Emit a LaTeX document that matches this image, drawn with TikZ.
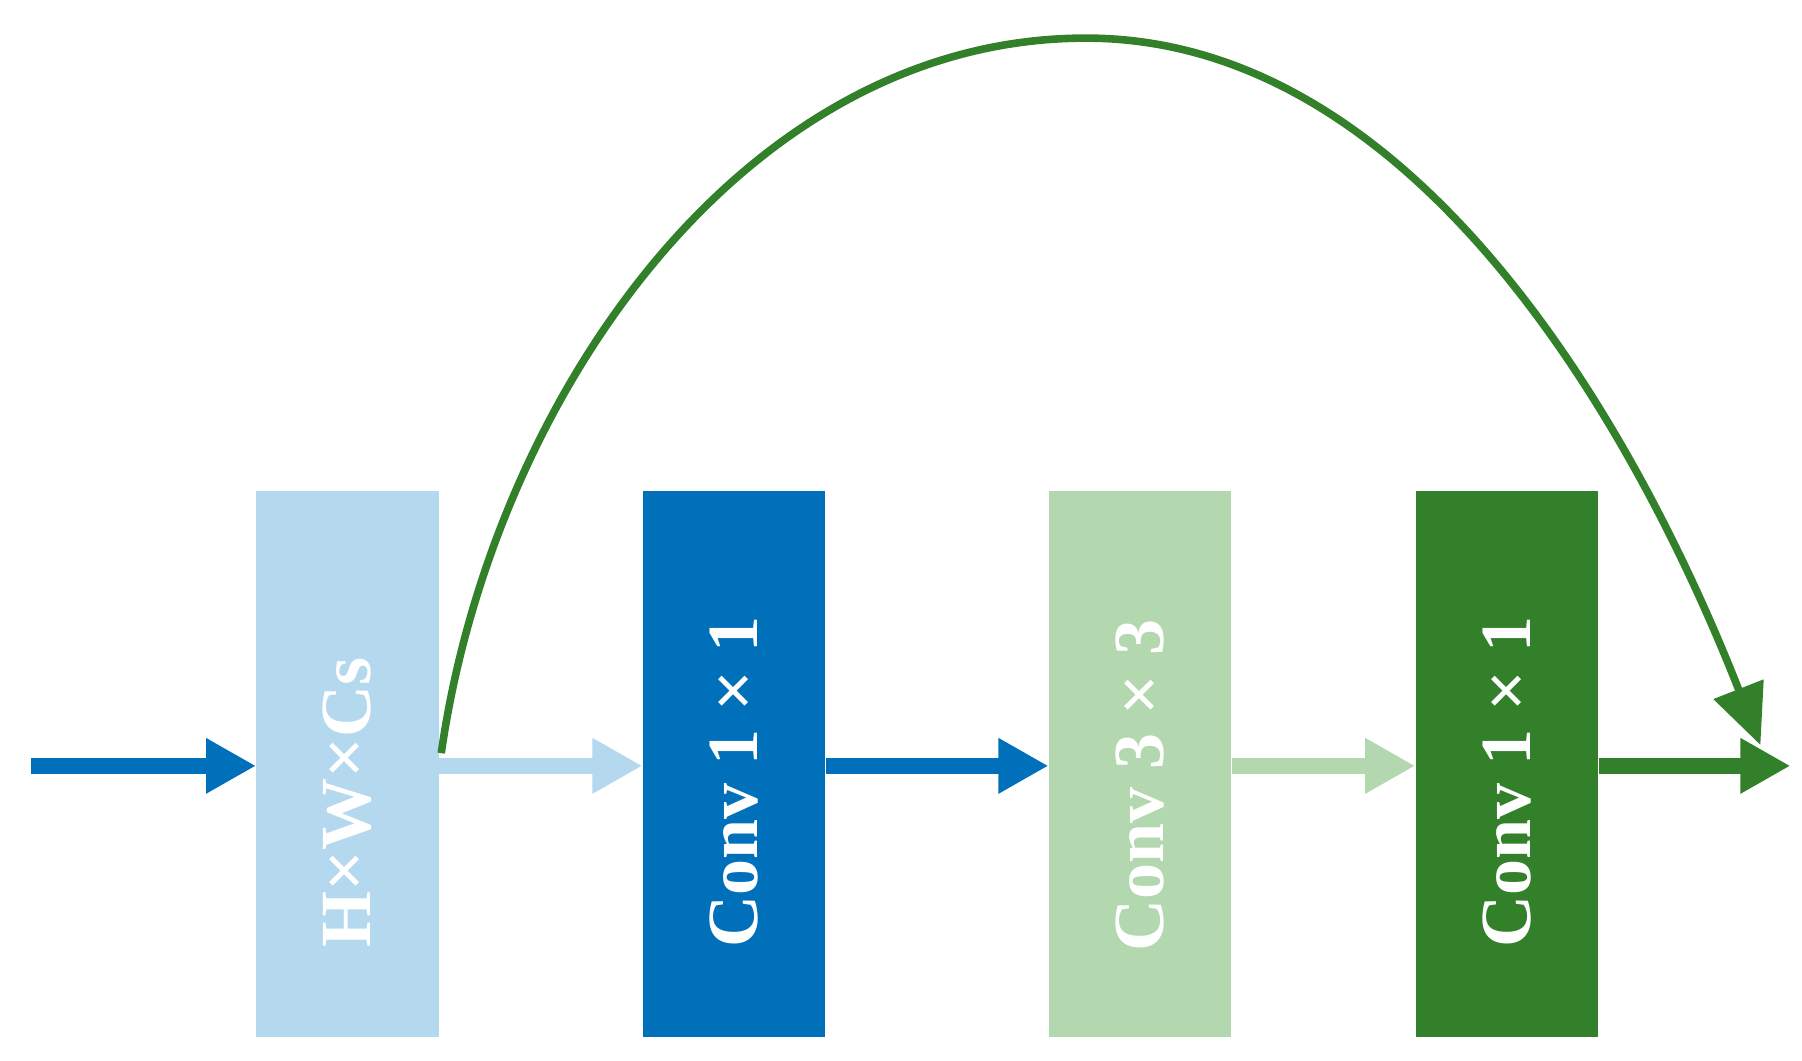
\documentclass[tikz,border=0pt]{standalone}
\usepackage{fontspec}
\setmainfont{Liberation Serif}[BoldFont={Liberation Serif Bold}]
\usetikzlibrary{arrows.meta}
\definecolor{lb}{HTML}{B4D8EE}
\definecolor{db}{HTML}{0070BA}
\definecolor{lg}{HTML}{B3D7AE}
\definecolor{dg}{HTML}{33802A}
\begin{document}
\begin{tikzpicture}[x=0.5775pt,y=-0.5775pt,
  box/.style={fill=#1,draw=none,minimum width=158*0.5775pt,minimum height=473*0.5775pt,inner sep=0pt},
  lbl/.style={text=white,font=\fontsize{36}{36}\selectfont\bfseries,rotate=90},
  arr/.style={draw=#1,line width=8pt,-{Triangle[length=25pt,width=26pt,fill=#1]}},
  skip/.style={draw=dg,line width=3.8pt,-{Triangle[length=30pt,width=26pt,fill=dg]}}]
\useasboundingbox (0,0) rectangle (1560,918);
\node[box=lb] (b1) at (301,661.5) {};
\node[box=db] (b2) at (635.5,661.5) {};
\node[box=lg] (b3) at (987,661.5) {};
\node[box=dg] (b4) at (1304.5,661.5) {};
\node[lbl] (t1) at (301,695) {H\raisebox{1pt}{×}W\raisebox{1pt}{×}Cs};
\node[lbl] (t2) at (635.5,677) {Conv 1 × 1};
\node[lbl] (t3) at (987,680) {Conv 3 × 3};
\node[lbl] (t4) at (1304.5,677) {Conv 1 × 1};
\coordinate (in) at (27,663);
\coordinate (out) at (1550,663);
\coordinate (s) at (382,652);
\coordinate (top) at (940,33);
\coordinate (e) at (1524,645);
\draw[arr=db] (in) -- (b1.west |- in);
\draw[arr=lb] (b1.east |- in) -- (b2.west |- in);
\draw[arr=db] (b2.east |- in) -- (b3.west |- in);
\draw[arr=lg] (b3.east |- in) -- (b4.west |- in);
\draw[arr=dg] (b4.east |- in) -- (out);
\draw[skip] (s) .. controls (425,350) and (640,33) .. (top) .. controls (1230,33) and (1420,380) .. (e);
\end{tikzpicture}
\end{document}
